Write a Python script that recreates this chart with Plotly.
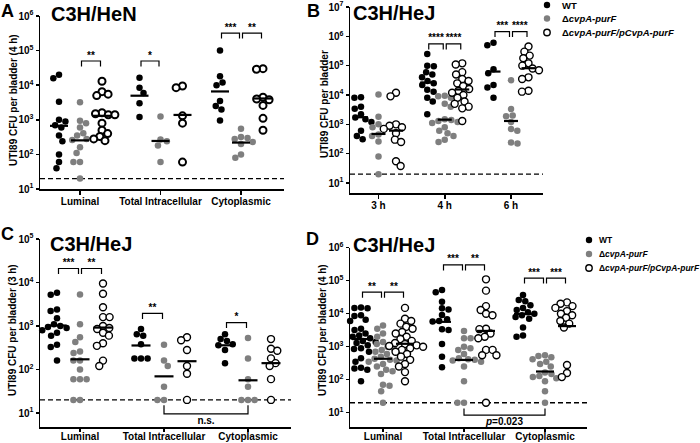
import math
import plotly.graph_objects as go

W, H = 700, 443
FONT = "Liberation Sans, Arial, Helvetica, sans-serif"

# ---------------- data ----------------
CATS_SITE = ["Luminal", "Total Intracellular", "Cytoplasmic"]
CATS_TIME = ["3 h", "4 h", "6 h"]
STRAINS = ["WT", "ΔcvpA-purF", "ΔcvpA-purF/pCvpA-purF"]
LOD = 20

A_WT = [[20000, 16000, 3300, 1000, 900, 700, 600, 350, 240, 100, 60, 40],
        [16500, 8500, 6000, 3000, 1200],
        [100000, 18000, 12000, 10000, 3500, 2500, 2000, 950]]
A_MUT = [[3200, 940, 790, 600, 410, 350, 280, 260, 160, 110, 60, 60, 20],
         [1250, 270, 240, 180, 60],
         [550, 320, 300, 280, 230, 200, 100, 80]]
A_COMP = [[13000, 6500, 5500, 5000, 1600, 1500, 1400, 1400, 800, 500, 400, 330, 280, 250],
          [9500, 8500, 1300, 800, 60],
          [30000, 29000, 4500, 4000, 3800, 2600, 1100, 500]]

B_WT = [[8300, 8000, 4000, 3400, 2200, 1700, 1500, 1200, 600, 400, 310],
        [250000, 100000, 95000, 60000, 50000, 40000, 30000, 25000, 22000, 15000, 13000, 8000, 6000, 2200],
        [600000, 500000, 75000, 55000, 22000, 18000, 8000]]
B_MUT = [[10500, 1800, 1000, 800, 450, 400, 260, 80, 20],
         [9500, 9000, 8000, 5000, 4000, 1500, 1400, 1300, 1200, 1100, 800, 600, 500, 400, 300, 250],
         [32000, 3300, 2000, 1900, 1200, 700, 600, 240, 220]]
B_COMP = [[12000, 9000, 1000, 900, 800, 700, 500, 300, 250, 55, 38],
          [120000, 110000, 60000, 50000, 35000, 30000, 25000, 20000, 16000, 14000, 12000, 10000, 8000,
           6000, 5000, 4000, 3500, 1300],
          [450000, 300000, 220000, 180000, 120000, 100000, 80000, 70000, 40000, 35000, 14000, 13000]]

C_WT = [[5800, 5200, 2400, 2200, 1500, 1100, 1000, 950, 900, 800, 700, 600, 370, 330, 160],
        [850, 650, 600, 380, 180, 180, 180],
        [650, 500, 450, 380, 360, 280, 140]]
C_MUT = [[5300, 1100, 550, 430, 260, 240, 160, 160, 100, 60, 60, 60, 20, 20],
         [370, 160, 120, 40, 20, 20],
         [530, 180, 60, 40, 20, 20, 20]]
C_COMP = [[9500, 5500, 2700, 1600, 1600, 1000, 900, 850, 700, 600, 400, 350, 160, 120],
          [550, 470, 280, 120, 80, 20],
          [500, 300, 270, 180, 140, 120, 60, 20]]

D_WT = [[15500, 15000, 14500, 14000, 9000, 8500, 6500, 6000, 3500, 3200, 2500, 2200, 2000, 1800, 1700,
         1500, 1400, 1300, 1200, 1100, 900, 850, 700, 600, 450, 350, 230, 220, 200, 90],
        [52000, 45000, 23000, 14500, 13500, 9100, 6800, 6000, 5800, 3400, 3200, 1200, 500, 240],
        [37000, 26000, 24000, 18000, 15000, 13000, 11000, 10000, 9000, 8000, 7000, 3800, 2200, 2000]]
D_MUT = [[4400, 3500, 2500, 2000, 1400, 1200, 1000, 900, 800, 700, 600, 500, 430, 400, 380, 350, 300,
          250, 200, 180, 150, 70, 65, 45, 20],
         [3000, 1800, 1800, 1000, 900, 800, 600, 450, 420, 400, 380, 350, 250, 90, 20, 20],
         [550, 520, 480, 420, 350, 300, 250, 165, 150, 130, 120, 110, 90, 45, 20]]
D_COMP = [[15000, 7000, 6000, 5000, 4000, 3500, 2800, 2500, 2000, 1700, 1500, 1300, 1200, 1100, 1050,
           1000, 900, 800, 700, 600, 500, 400, 300, 250, 170, 90],
          [110000, 50000, 17000, 13000, 10000, 9000, 3500, 3400, 2500, 2000, 1800, 800, 800, 550, 550, 20],
          [22000, 20000, 17000, 15000, 12000, 10000, 9000, 7500, 6000, 5000, 3800, 280, 160, 120]]

# significance brackets: (category, group from, group to, label, bracket height CFU)
SIG_A = [(0, 1, 2, "**", 50000), (1, 0, 1, "*", 50000), (2, 0, 1, "***", 320000), (2, 1, 2, "**", 320000)]
SIG_B = [(1, 0, 1, "****", 550000), (1, 1, 2, "****", 550000),
         (2, 0, 1, "***", 1450000), (2, 1, 2, "****", 1450000)]
SIG_C = [(0, 0, 1, "***", 21000), (0, 1, 2, "**", 21000), (1, 0, 1, "**", 1950), (2, 0, 1, "*", 1200)]
SIG_D = [(0, 0, 1, "**", 45000), (0, 1, 2, "**", 45000), (1, 0, 1, "***", 300000), (1, 1, 2, "**", 300000),
         (2, 0, 1, "***", 120000), (2, 1, 2, "***", 120000)]
# lower comparison between mutant groups: (cat from, cat to, label, bracket bottom CFU, leg top CFU)
LOW_C = (1, 2, "<b>n.s.</b>", 9.5, 15)
LOW_D = (1, 2, "<b><i>p</i>=0.023</b>", 8.5, 13.5)

# ---------------- layout geometry (pixels) ----------------
PANELS = [
    dict(key="A", data=(A_WT, A_MUT, A_COMP), cats=CATS_SITE, sig=SIG_A, low=None,
         x0=40, x1=284, t0=80, t2=241, top_exp=6, top_py=16, ten_py=189, axis_py=189,
         offs=(-21, 0, 22), mlen=18, olw=2.0, ytitle="UTI89 CFU per bladder (4 h)", ytx=14, yty=100,
         title="C3H/HeN", ttx=49, tty=14, letter=(7, 11), lstand=-2, tlen=4),
    dict(key="B", data=(B_WT, B_MUT, B_COMP), cats=CATS_TIME, sig=SIG_B, low=None,
         x0=350, x1=543, t0=378.5, t2=511, top_exp=7, top_py=7, ten_py=183, axis_py=193,
         offs=(-17.5, 0, 17.5), mlen=14, olw=1.4, ytitle="UTI89 CFU per bladder", ytx=324, yty=104,
         title="C3H/HeJ", ttx=351, tty=13, letter=(313, 11), lstand=-2, tlen=4),
    dict(key="C", data=(C_WT, C_MUT, C_COMP), cats=CATS_SITE, sig=SIG_C, low=LOW_C,
         x0=40, x1=291, t0=80, t2=248, top_exp=5, top_py=239, ten_py=413, axis_py=427,
         offs=(-23, 0, 23), mlen=19, olw=1.4, ytitle="UTI89 CFU per bladder (3 h)", ytx=12, yty=330,
         title="C3H/HeJ", ttx=48, tty=244, letter=(7, 234), lstand=-4, tlen=3),
    dict(key="D", data=(D_WT, D_MUT, D_COMP), cats=CATS_SITE, sig=SIG_D, low=LOW_D,
         x0=350, x1=587, t0=383, t2=545, top_exp=6, top_py=247.7, ten_py=412.7, axis_py=427,
         offs=(-22, 0, 22), mlen=18, olw=1.4, ytitle="UTI89 CFU per bladder (4 h)", ytx=322, yty=330,
         title="C3H/HeJ", ttx=351, tty=245, letter=(312, 239), lstand=-4, tlen=3),
]
LEGENDS = [dict(mx=547, ys=(5, 18.5, 32.5), tx=560, fs=9.5),
           dict(mx=589, ys=(240, 254, 268), tx=597, fs=8.5)]

MARK_SIZE = 6.5
GREY = "#7f7f7f"


def px2paper(px, py):
    return px / W, 1 - py / H


def swarm(vals, ppd, d):
    ys = [math.log10(v) * ppd for v in vals]
    order = sorted(range(len(vals)), key=lambda i: -vals[i])
    placed, offs = [], [0.0] * len(vals)
    for k, i in enumerate(order):
        y = ys[i]
        iv = []
        for xp, yp in placed:
            dy = abs(y - yp)
            if dy < d:
                w = math.sqrt(d * d - dy * dy)
                iv.append((xp - w, xp + w))
        cands = [0.0] + [a for a, b in iv] + [b for a, b in iv]
        sgn = 1 if k % 2 else -1
        cands.sort(key=lambda c: (round(abs(c), 6), sgn * c))
        chosen = 0.0
        for c in cands:
            if all(not (a + 1e-7 < c < b - 1e-7) for a, b in iv):
                chosen = c
                break
        placed.append((chosen, y))
        offs[i] = chosen
    return offs


def geomean(v):
    return 10 ** (sum(math.log10(x) for x in v) / len(v))


fig = go.Figure()
annotations = []
shapes = []

for n, P in enumerate(PANELS):
    sfx = "" if n == 0 else str(n + 1)
    xa, ya = "x" + sfx, "y" + sfx
    ppd = (P["ten_py"] - P["top_py"]) / (P["top_exp"] - 1)
    ylow = 1 - (P["axis_py"] - P["ten_py"]) / ppd
    sp = (P["t2"] - P["t0"]) / 2
    xr = [(P["x0"] - P["t0"]) / sp, (P["x1"] - P["t0"]) / sp]

    # LOD dashed line
    fig.add_trace(go.Scatter(x=xr, y=[LOD, LOD], mode="lines", xaxis=xa, yaxis=ya,
                             line=dict(color="black", width=1.4, dash="5px,3px"),
                             hoverinfo="skip", showlegend=False))

    mean_x, mean_y = [], []
    for g, groups in enumerate(P["data"]):
        xs, ys = [], []
        for c, vals in enumerate(groups):
            offs = swarm(vals, ppd, 6.6)
            cx = c + P["offs"][g] / sp
            xs += [cx + o / sp for o in offs]
            ys += list(vals)
            gm = geomean(vals)
            half = P["mlen"] / 2 / sp
            mean_x += [cx - half, cx + half, None]
            mean_y += [gm, gm, None]
        if g == 0:
            mk = dict(size=MARK_SIZE, color="black", line=dict(width=0))
        elif g == 1:
            mk = dict(size=MARK_SIZE, color=GREY, line=dict(width=0))
        else:
            mk = dict(size=MARK_SIZE + 0.5, color="white", line=dict(color="black", width=P["olw"]))
        fig.add_trace(go.Scatter(x=xs, y=ys, mode="markers", marker=mk, xaxis=xa, yaxis=ya,
                                 cliponaxis=False, showlegend=False, name=STRAINS[g]))
    fig.add_trace(go.Scatter(x=mean_x, y=mean_y, mode="lines", xaxis=xa, yaxis=ya,
                             line=dict(color="black", width=2.2), cliponaxis=False,
                             hoverinfo="skip", showlegend=False))

    # significance brackets
    leg = 10 ** (5.5 / ppd)
    inset = 1.5 / sp
    bx, by, tx, ty, tt = [], [], [], [], []
    for c, g1, g2, lab, yb in P["sig"]:
        xa1 = c + P["offs"][g1] / sp + inset
        xa2 = c + P["offs"][g2] / sp - inset
        bx += [xa1, xa1, xa2, xa2, None]
        by += [yb / leg, yb, yb, yb / leg, None]
        tx.append((xa1 + xa2) / 2)
        ty.append(yb)
        tt.append("<b>" + lab + "</b>")
    if P["low"]:
        c1, c2, lab, ylo, yhi = P["low"]
        xl1 = c1 + P["offs"][1] / sp
        xl2 = c2 + P["offs"][1] / sp
        bx += [xl1, xl1, xl2, xl2, None]
        by += [yhi, ylo, ylo, yhi, None]
        fig.add_trace(go.Scatter(x=[(xl1 + xl2) / 2], y=[ylo / 10 ** (7.5 / ppd)], mode="text",
                                 text=[lab], textposition="middle center", xaxis=xa, yaxis=ya,
                                 textfont=dict(family=FONT, size=10, color="#000000"),
                                 cliponaxis=False, showlegend=False, hoverinfo="skip"))
    fig.add_trace(go.Scatter(x=bx, y=by, mode="lines", xaxis=xa, yaxis=ya,
                             line=dict(color="black", width=1.2), cliponaxis=False,
                             hoverinfo="skip", showlegend=False))
    fig.add_trace(go.Scatter(x=tx, y=ty, mode="text", text=tt, textposition="top center",
                             xaxis=xa, yaxis=ya,
                             textfont=dict(family=FONT, size=10, color=["#000000"] * len(tt)),
                             cliponaxis=False, showlegend=False, hoverinfo="skip"))

    exps = list(range(1, P["top_exp"] + 1))
    fig.layout["xaxis" + sfx] = dict(
        domain=[P["x0"] / W, P["x1"] / W], range=xr, anchor=ya, showgrid=False, zeroline=False,
        showline=True, linecolor="black", linewidth=1.5, ticks="outside", ticklen=P["tlen"], tickwidth=1.5,
        tickcolor="black", tickvals=[0, 1, 2], ticktext=P["cats"], ticklabelstandoff=P["lstand"],
        tickfont=dict(family=FONT, size=10, color="black", weight="bold"), fixedrange=True)
    fig.layout["yaxis" + sfx] = dict(
        domain=[1 - P["axis_py"] / H, 1 - P["top_py"] / H], type="log", range=[ylow, P["top_exp"]],
        anchor=xa, showgrid=False, zeroline=False, showline=True, linecolor="black", linewidth=1.5,
        ticks="outside", ticklen=3, tickwidth=1.5, tickcolor="black",
        tickvals=[10 ** e for e in exps], ticktext=["10<sup>%d</sup>" % e for e in exps],
        tickfont=dict(family=FONT, size=10, color="black", weight="bold"), fixedrange=True)

    # texts
    lx, ly = px2paper(*P["letter"])
    annotations.append(dict(x=lx, y=ly, xref="paper", yref="paper", text="<b>%s</b>" % P["key"],
                            showarrow=False, xanchor="center", yanchor="middle",
                            font=dict(family=FONT, size=18, color="black")))
    tx0, ty0 = px2paper(P["ttx"], P["tty"])
    annotations.append(dict(x=tx0, y=ty0, xref="paper", yref="paper", text="<b>%s</b>" % P["title"],
                            showarrow=False, xanchor="left", yanchor="middle",
                            font=dict(family=FONT, size=20, color="black")))
    yx, yy = px2paper(P["ytx"], P["yty"])
    annotations.append(dict(x=yx, y=yy, xref="paper", yref="paper", text="<b>%s</b>" % P["ytitle"],
                            showarrow=False, xanchor="center", yanchor="middle", textangle=-90,
                            font=dict(family=FONT, size=10, color="black")))

# legends
leg_text = ["<b>WT</b>", "<b>Δ<i>cvpA-purF</i></b>", "<b>Δ<i>cvpA-purF/pCvpA-purF</i></b>"]
for L in LEGENDS:
    for g in range(3):
        cx, cy = L["mx"], L["ys"][g]
        r = 3.2
        if g == 0:
            st = dict(fillcolor="black", line=dict(width=0))
        elif g == 1:
            st = dict(fillcolor=GREY, line=dict(width=0))
        else:
            st = dict(fillcolor="white", line=dict(color="black", width=1.4))
        shapes.append(dict(type="circle", xref="paper", yref="paper",
                           x0=(cx - r) / W, x1=(cx + r) / W, y0=1 - (cy + r) / H, y1=1 - (cy - r) / H, **st))
        tx0, ty0 = px2paper(L["tx"], cy)
        annotations.append(dict(x=tx0, y=ty0, xref="paper", yref="paper", text=leg_text[g],
                                showarrow=False, xanchor="left", yanchor="middle",
                                font=dict(family=FONT, size=L["fs"], color="black")))

fig.update_layout(width=W, height=H, margin=dict(l=0, r=0, t=0, b=0, autoexpand=False),
                  paper_bgcolor="white", plot_bgcolor="white", showlegend=False,
                  annotations=annotations, shapes=shapes, font=dict(family=FONT, color="black"))
fig.write_html("out.html", config={"displayModeBar": False, "staticPlot": True},
               post_script="document.body.style.margin='0px';document.body.style.overflow='hidden';")
